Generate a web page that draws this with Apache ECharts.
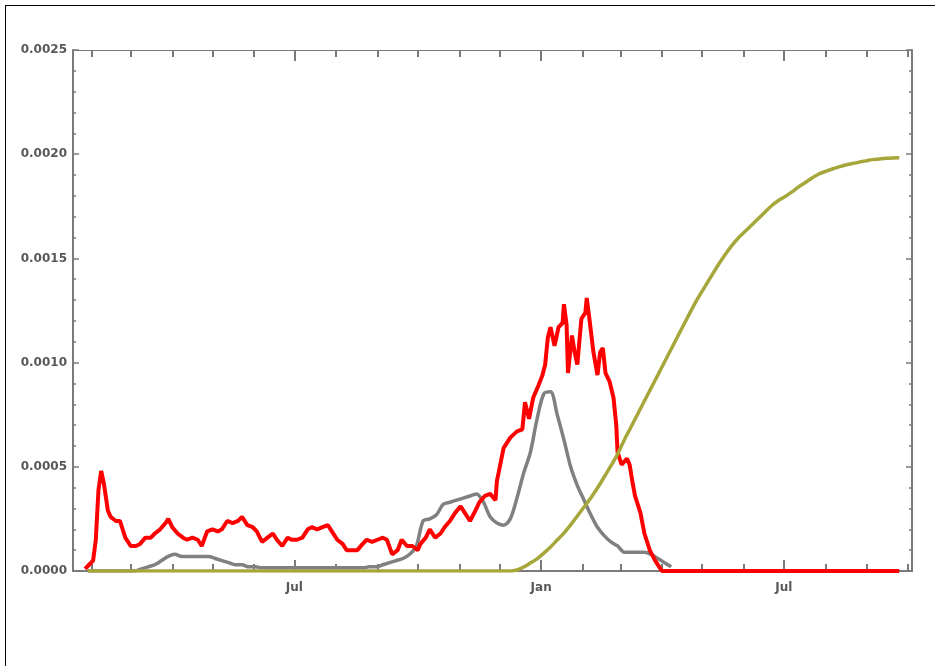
<!DOCTYPE html>
<html>
<head>
<meta charset="utf-8">
<script src="https://cdn.jsdelivr.net/npm/echarts@6/dist/echarts.min.js"></script>
<style>
  html, body { margin: 0; padding: 0; background: #fff; }
  #chart { width: 935px; height: 666px; }
  #frame {
    position: absolute; left: 5px; top: 5px; width: 930px; height: 661px;
    border-left: 1px solid #000; border-top: 1px solid #000; pointer-events: none;
  }
</style>
</head>
<body>
<div id="chart"></div>
<div id="frame"></div>
<script>
// gray / olive series: sampled every 5 days from 2020-01-29
const startDate = [2020, 0, 29];
const stepDays = 5;
const pointCount = 122;

// y-axis tick labels
const yTicks = [0, 0.0005, 0.0010, 0.0015, 0.0020, 0.0025];
// labelled x ticks
const xLabelDates = [[2020, 6, 1], [2021, 0, 1], [2021, 6, 1]];
const monthNames = ['Jan', 'Feb', 'Mar', 'Apr', 'May', 'Jun', 'Jul', 'Aug', 'Sep', 'Oct', 'Nov', 'Dec'];

// red series read at its own points: day number counted from 2020-01-01
const redDays = [
  26, 29, 32, 34, 36, 38, 40, 43, 45, 49, 52, 56, 60, 64, 67, 71, 75, 78, 82, 86,
  88, 91, 95, 99, 102, 106, 110, 113, 117, 121, 125, 128, 132, 136, 140, 143, 147, 151, 154, 158,
  162, 166, 169, 173, 177, 180, 184, 188, 192, 195, 199, 203, 207, 210, 214, 218, 221, 225, 229, 233,
  236, 240, 244, 248, 251, 255, 259, 262, 266, 270, 274, 276, 280, 283, 287, 291, 294, 298, 302, 306,
  309, 313, 317, 320, 324, 328, 332, 333, 338, 343, 348, 352, 354, 357, 360, 364, 367, 369, 371, 373,
  376, 379, 382, 383, 385, 386, 389, 391, 393, 396, 399, 400, 402, 405, 408, 410, 412, 414, 417, 420,
  422, 423, 426, 430, 432, 434, 436, 440, 443, 447, 451, 455, 456, 633
];
const redValues = [
  0.00001, 0.00003, 0.00005, 0.00015, 0.00039, 0.00048, 0.00042, 0.00029, 0.00026, 0.00024,
  0.00024, 0.00016, 0.00012, 0.00012, 0.00013, 0.00016, 0.00016, 0.00018, 0.00020, 0.00023,
  0.00025, 0.00021, 0.00018, 0.00016, 0.00015, 0.00016, 0.00015, 0.00012, 0.00019, 0.00020,
  0.00019, 0.00020, 0.00024, 0.00023, 0.00024, 0.00026, 0.00022, 0.00021, 0.00019, 0.00014,
  0.00016, 0.00018, 0.00015, 0.00012, 0.00016, 0.00015, 0.00015, 0.00016, 0.00020, 0.00021,
  0.00020, 0.00021, 0.00022, 0.00019, 0.00015, 0.00013, 0.00010, 0.00010, 0.00010, 0.00013,
  0.00015, 0.00014, 0.00015, 0.00016, 0.00015, 0.00008, 0.00010, 0.00015, 0.00012, 0.00012,
  0.00010, 0.00013, 0.00016, 0.00020, 0.00016, 0.00018, 0.00021, 0.00024, 0.00028, 0.00031,
  0.00028, 0.00024, 0.00029, 0.00033, 0.00036, 0.00037, 0.00034, 0.00043, 0.00059, 0.00064,
  0.00067, 0.00068, 0.00081, 0.00073, 0.00083, 0.00089, 0.00094, 0.00099, 0.00112, 0.00117,
  0.00108, 0.00117, 0.00119, 0.00128, 0.00118, 0.00095, 0.00113, 0.00105, 0.00099, 0.00121,
  0.00124, 0.00131, 0.00121, 0.00105, 0.00094, 0.00105, 0.00107, 0.00095, 0.00091, 0.00083,
  0.00070, 0.00057, 0.00051, 0.00054, 0.00051, 0.00043, 0.00036, 0.00028, 0.00018, 0.00010,
  0.00005, 0.00001, 0, 0
];

const grayValues = [
  0, 0, 0, 0, 0, 0, 0, 0, 0.00001, 0.00002,
  0.00003, 0.00005, 0.00007, 0.00008, 0.00007, 0.00007, 0.00007, 0.00007, 0.00007, 0.00006,
  0.00005, 0.00004, 0.00003, 0.00003, 0.00002, 0.00002, 0.000015, 0.000015, 0.000015, 0.000015,
  0.000015, 0.000015, 0.000015, 0.000015, 0.000015, 0.000015, 0.000015, 0.000015, 0.000015, 0.000015,
  0.000015, 0.000015, 0.00002, 0.00002, 0.00003, 0.00004, 0.00005, 0.00006, 0.00008, 0.00012,
  0.00024, 0.00025, 0.00027, 0.00032, 0.00033, 0.00034, 0.00035, 0.00036, 0.00037, 0.00033,
  0.00026, 0.00023, 0.00022, 0.00025, 0.00035, 0.00047, 0.00057, 0.00073, 0.00085, 0.00086,
  0.00075, 0.00063, 0.00050, 0.00041, 0.00034, 0.00027, 0.00021, 0.00017, 0.00014, 0.00012,
  0.00009, 0.00009, 0.00009, 0.00009, 0.00008, 0.00006, 0.00004, 0.00002, null, null,
  null, null, null, null, null, null, null, null, null, null,
  null, null, null, null, null, null, null, null, null, null,
  null, null, null, null, null, null, null, null, null, null,
  null, null
];

const oliveValues = [
  0, 0, 0, 0, 0, 0, 0, 0, 0, 0,
  0, 0, 0, 0, 0, 0, 0, 0, 0, 0,
  0, 0, 0, 0, 0, 0, 0, 0, 0, 0,
  0, 0, 0, 0, 0, 0, 0, 0, 0, 0,
  0, 0, 0, 0, 0, 0, 0, 0, 0, 0,
  0, 0, 0, 0, 0, 0, 0, 0, 0, 0,
  0, 0, 0, 0, 0.000005, 0.000019, 0.000038, 0.000058, 0.000086, 0.000115,
  0.000149, 0.000182, 0.000221, 0.000264, 0.000307, 0.00035, 0.000398, 0.000451, 0.000504, 0.000561,
  0.000629, 0.000691, 0.000753, 0.000816, 0.000878, 0.00094, 0.001003, 0.001065, 0.001128, 0.00119,
  0.001252, 0.00131, 0.001363, 0.001416, 0.001468, 0.001516, 0.00156, 0.001598, 0.001629, 0.00166,
  0.001691, 0.001723, 0.001754, 0.001778, 0.001797, 0.001819, 0.001843, 0.001864, 0.001886, 0.001905,
  0.001917, 0.001929, 0.001939, 0.001948, 0.001955, 0.001962, 0.001968, 0.001974, 0.001977, 0.00198,
  0.001982, 0.001983
];

const dates = [];
for (let i = 0; i < pointCount; i++) {
  dates.push(new Date(startDate[0], startDate[1], startDate[2] + i * stepDays).getTime());
}
const redDates = redDays.map(d => new Date(2020, 0, 1 + d).getTime());

// month ticks Feb 2020 .. Oct 2021
const monthTicks = [];
for (let m = 1; m <= 21; m++) {
  monthTicks.push(new Date(2020, m, 1).getTime());
}
const majorTicks = xLabelDates.map(d => new Date(d[0], d[1], d[2]).getTime());

const xMin = new Date(2020, 0, 18).getTime();
const xMax = new Date(2021, 9, 4, 12).getTime();

const axisColor = '#7a7a7a';
const labelStyle = {
  color: '#585858',
  fontFamily: 'DejaVu Sans',
  fontWeight: 'bold',
  fontSize: 12
};

// dates are plain timestamps on a value axis so ticks can sit on month starts
function xAxisDef(position, ticks, len, width, withLabels) {
  return {
    type: 'value',
    position: position,
    min: xMin,
    max: xMax,
    axisLine: { show: true, onZero: false, lineStyle: { color: axisColor, width: width } },
    axisTick: { show: true, inside: true, length: len, customValues: ticks, lineStyle: { color: axisColor, width: 2 } },
    axisLabel: withLabels ? {
      show: true,
      customValues: majorTicks,
      margin: 11,
      formatter: v => monthNames[new Date(v).getMonth()],
      ...labelStyle
    } : { show: false },
    splitLine: { show: false }
  };
}

function yAxisDef(position, withLabels) {
  return {
    type: 'value',
    position: position,
    min: yTicks[0],
    max: yTicks[yTicks.length - 1],
    interval: 0.0005,
    axisLine: { show: true, onZero: false, lineStyle: { color: axisColor, width: 2 } },
    axisTick: { show: true, inside: true, length: 6, lineStyle: { color: axisColor, width: 1.5 } },
    minorTick: { show: true, splitNumber: 5, length: 3, lineStyle: { color: axisColor, width: 1.5 } },
    axisLabel: withLabels ? {
      show: true,
      margin: 6,
      formatter: v => v.toFixed(4),
      ...labelStyle
    } : { show: false },
    splitLine: { show: false }
  };
}

const chart = echarts.init(document.getElementById('chart'), null, { renderer: 'canvas' });

chart.setOption({
  animation: false,
  backgroundColor: '#fff',
  grid: { left: 73, right: 23, top: 50, bottom: 95 },
  xAxis: [
    xAxisDef('bottom', monthTicks, 7, 2, false),
    xAxisDef('bottom', majorTicks, 11, 2, true),
    xAxisDef('top', monthTicks, 7, 1, false),
    xAxisDef('top', majorTicks, 11, 1, false)
  ],
  yAxis: [
    yAxisDef('left', true),
    yAxisDef('right', false)
  ],
  series: [
    {
      name: 'gray',
      type: 'line',
      showSymbol: false,
      smooth: 0.3,
      data: dates.map((d, i) => [d, grayValues[i]]),
      lineStyle: { color: '#808080', width: 3.5 },
      itemStyle: { color: '#808080' }
    },
    {
      name: 'red',
      type: 'line',
      showSymbol: false,
      data: redDates.map((d, i) => [d, redValues[i]]),
      lineStyle: { color: '#ff0000', width: 4 },
      itemStyle: { color: '#ff0000' }
    },
    {
      name: 'olive',
      type: 'line',
      showSymbol: false,
      smooth: 0.3,
      data: dates.map((d, i) => [d, oliveValues[i]]),
      lineStyle: { color: '#a6a63a', width: 3.5 },
      itemStyle: { color: '#a6a63a' }
    }
  ]
});
</script>
</body>
</html>
